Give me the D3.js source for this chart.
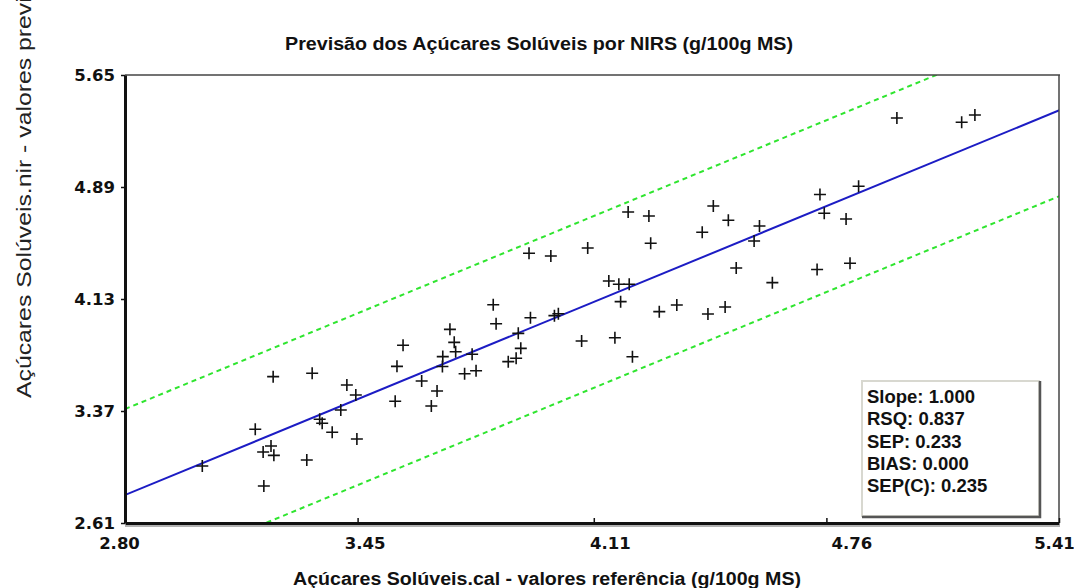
<!DOCTYPE html>
<html>
<head>
<meta charset="utf-8">
<script src="https://cdn.jsdelivr.net/npm/d3@7"></script>
<style>
  html, body { margin: 0; padding: 0; background: #fff; }
  svg { display: block; }
</style>
</head>
<body>
<svg id="chart" width="1074" height="588"></svg>
<script>
// Reference (lab) values vs NIRS-predicted values, g/100g MS
const referenceValues = [
  3.016, 3.164, 3.188, 3.208, 3.186, 3.216, 3.214, 3.308, 3.323, 3.344,
  3.351, 3.379, 3.403, 3.420, 3.445, 3.448, 3.555, 3.560, 3.577, 3.629,
  3.656, 3.672, 3.687, 3.688, 3.708, 3.720, 3.724, 3.749, 3.770, 3.781,
  3.829, 3.837, 3.871, 3.893, 3.906, 3.899, 3.929, 3.933, 3.990, 4.000,
  4.011, 4.076, 4.093, 4.152, 4.169, 4.180, 4.185, 4.209, 4.206, 4.218,
  4.264, 4.269, 4.293, 4.342, 4.413, 4.429, 4.444, 4.477, 4.486, 4.508,
  4.558, 4.573, 4.609, 4.734, 4.742, 4.754, 4.815, 4.826, 4.850, 4.957,
  5.138, 5.175
];
const predictedValues = [
  2.997, 3.246, 2.861, 3.133, 3.092, 3.069, 3.603, 3.038, 3.626, 3.314,
  3.287, 3.226, 3.377, 3.546, 3.479, 3.180, 3.436, 3.673, 3.816, 3.574,
  3.404, 3.506, 3.672, 3.739, 3.924, 3.836, 3.772, 3.623, 3.755, 3.643,
  4.091, 3.962, 3.705, 3.728, 3.795, 3.897, 4.440, 4.003, 4.422, 4.017,
  4.030, 3.845, 4.476, 4.252, 3.867, 4.230, 4.112, 4.230, 4.720, 3.738,
  4.693, 4.508, 4.044, 4.089, 4.583, 4.028, 4.761, 4.076, 4.664, 4.340,
  4.524, 4.625, 4.241, 4.330, 4.839, 4.712, 4.673, 4.373, 4.895, 5.358,
  5.329, 5.379
];

const xTicks = [2.80, 3.45, 4.11, 4.76, 5.41];
const yTicks = [2.61, 3.37, 4.13, 4.89, 5.65];
const xDomain = [2.80, 5.41];
const yDomain = [2.61, 5.65];

// Fitted line (slope, bias) and the width of the confidence band
const fitSlope = 1.000;
const fitBias = 0.000;
const bandHalfWidth = 0.583;

const statLabels = ["Slope: 1.000", "RSQ: 0.837", "SEP: 0.233", "BIAS: 0.000", "SEP(C): 0.235"];

const titleText = "Previsão dos Açúcares Solúveis por NIRS (g/100g MS)";
const xLabelText = "Açúcares Solúveis.cal - valores referência (g/100g MS)";
const yLabelText = "Açúcares Solúveis.nir - valores previstos (g/100g MS)";

// ---- layout ----
const plot = { left: 125, right: 1059, top: 75, bottom: 523 };
const svg = d3.select("#chart");

const x = d3.scaleLinear().domain(xDomain).range([plot.left, plot.right]);
const y = d3.scaleLinear().domain(yDomain).range([plot.bottom, plot.top]);

svg.append("defs").append("clipPath").attr("id", "plotClip")
  .append("rect")
  .attr("x", plot.left).attr("y", plot.top)
  .attr("width", plot.right - plot.left).attr("height", plot.bottom - plot.top);

// title
svg.append("text")
  .attr("x", 285).attr("y", 50)
  .attr("textLength", 508).attr("lengthAdjust", "spacingAndGlyphs")
  .style("font-family", "'Liberation Sans', Arial, sans-serif")
  .style("font-weight", "bold").style("font-size", "17.5px")
  .attr("fill", "#111")
  .text(titleText);

// x axis title
svg.append("text")
  .attr("x", 293).attr("y", 585)
  .attr("textLength", 508).attr("lengthAdjust", "spacingAndGlyphs")
  .style("font-family", "'Liberation Sans', Arial, sans-serif")
  .style("font-weight", "bold").style("font-size", "17.5px")
  .attr("fill", "#111")
  .text(xLabelText);

// y axis title: wide lettering that runs off the top edge
const yTitle = svg.append("text")
  .style("font-family", "'Liberation Sans', Arial, sans-serif")
  .style("font-size", "20.5px")
  .attr("fill", "#222")
  .text(yLabelText);
const prefixLen = yTitle.node().getSubStringLength(0, 35);
const stretch = 383 / prefixLen;
yTitle.attr("transform", `translate(31,398) rotate(-90) scale(${stretch},1)`);

// ---- band lines and fit line ----
const lines = svg.append("g").attr("clip-path", "url(#plotClip)");
const lineGen = d3.line().x(d => x(d[0])).y(d => y(d[1]));
const fitAt = v => fitSlope * v + fitBias;
const xs = [xDomain[0] - 1, xDomain[1] + 1];

[bandHalfWidth, -bandHalfWidth].forEach(off => {
  lines.append("path")
    .datum(xs.map(v => [v, fitAt(v) + off]))
    .attr("d", lineGen)
    .attr("fill", "none")
    .attr("stroke", "#2fe52f")
    .attr("stroke-width", 2)
    .attr("stroke-dasharray", "5,4");
});

lines.append("path")
  .datum(xs.map(v => [v, fitAt(v)]))
  .attr("d", lineGen)
  .attr("fill", "none")
  .attr("stroke", "#1c1cc4")
  .attr("stroke-width", 2);

// ---- sample crosses ----
const arm = 6;
const pts = referenceValues.map((r, i) => [r, predictedValues[i]]);
svg.append("g").selectAll("path.pt")
  .data(pts)
  .join("path")
  .attr("class", "pt")
  .attr("d", d => {
    const px = x(d[0]), py = y(d[1]);
    return `M${px - arm},${py}H${px + arm}M${px},${py - arm}V${py + arm}`;
  })
  .attr("stroke", "#111")
  .attr("stroke-width", 1.6)
  .attr("fill", "none");

// ---- frame ----
const frame = svg.append("g");
frame.append("line")
  .attr("x1", plot.left).attr("x2", plot.right + 1)
  .attr("y1", plot.top).attr("y2", plot.top)
  .attr("stroke", "#444").attr("stroke-width", 1.5);
frame.append("line")
  .attr("x1", plot.right).attr("x2", plot.right)
  .attr("y1", plot.top).attr("y2", plot.bottom)
  .attr("stroke", "#444").attr("stroke-width", 1.5);
frame.append("line")
  .attr("x1", plot.left).attr("x2", plot.right + 1)
  .attr("y1", plot.bottom + 3).attr("y2", plot.bottom + 3)
  .attr("stroke", "#999").attr("stroke-width", 1.5);

// ---- axes ----
const axisFont = g => g.selectAll("text")
  .style("font-family", "'DejaVu Sans', sans-serif")
  .style("font-weight", "bold")
  .style("font-size", "16.5px")
  .attr("fill", "#111");

// label shifts along the bottom axis so the last one stays on the page
const xLabelShift = [-6, 7, 16, 25, -5];

const xAxis = svg.append("g")
  .attr("transform", `translate(0,${plot.bottom})`)
  .call(d3.axisBottom(x).tickValues(xTicks).tickFormat(d3.format(".2f"))
    .tickSizeInner(-5).tickSizeOuter(0).tickPadding(14));
xAxis.select(".domain").attr("stroke", "#111").attr("stroke-width", 3);
xAxis.selectAll(".tick line").attr("stroke", "#111").attr("stroke-width", 1.5);
xAxis.call(axisFont);
xAxis.selectAll(".tick text").attr("dx", (d, i) => xLabelShift[i]);

const yAxis = svg.append("g")
  .attr("transform", `translate(${plot.left},0)`)
  .call(d3.axisLeft(y).tickValues(yTicks).tickFormat(d3.format(".2f"))
    .tickSizeInner(4).tickSizeOuter(0).tickPadding(6));
yAxis.select(".domain").attr("stroke", "#111").attr("stroke-width", 3);
yAxis.selectAll(".tick line").attr("stroke", "#111").attr("stroke-width", 1.5);
yAxis.call(axisFont);

// ---- statistics box ----
const box = { x: 862, y: 381, w: 177, h: 135 };
const stats = svg.append("g");
stats.append("rect")
  .attr("x", box.x).attr("y", box.y).attr("width", box.w).attr("height", box.h)
  .attr("fill", "#fff").attr("stroke", "#d8d8d0").attr("stroke-width", 2);
stats.append("path")
  .attr("d", `M${box.x},${box.y + box.h + 1}H${box.x + box.w + 1}V${box.y}`)
  .attr("fill", "none").attr("stroke", "#555").attr("stroke-width", 2.5);
stats.selectAll("text")
  .data(statLabels)
  .join("text")
  .attr("x", box.x + 5)
  .attr("y", (d, i) => box.y + 22 + i * 22.3)
  .style("font-family", "'Liberation Sans', Arial, sans-serif")
  .style("font-weight", "bold")
  .style("font-size", "18.5px")
  .attr("fill", "#111")
  .text(d => d);
</script>
</body>
</html>
